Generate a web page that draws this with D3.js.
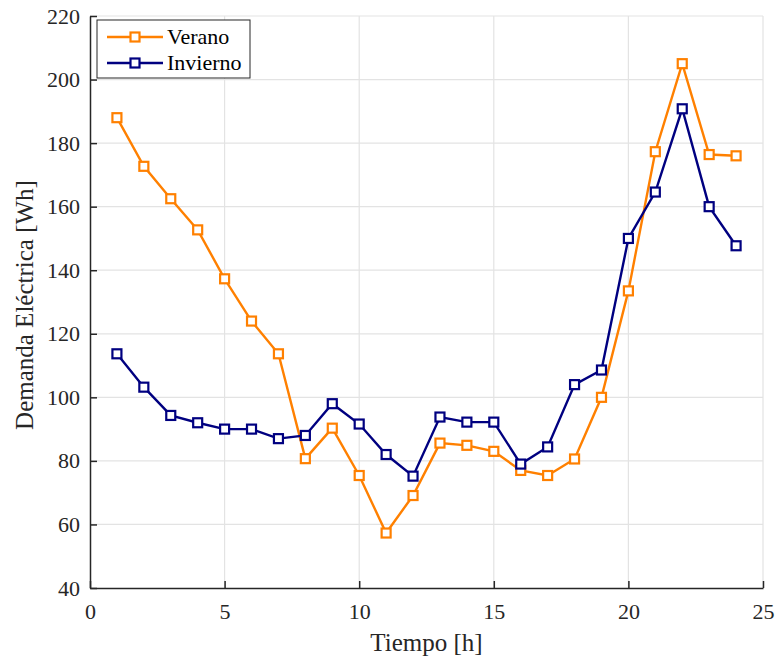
<!DOCTYPE html>
<html>
<head>
<meta charset="utf-8">
<script src="https://cdnjs.cloudflare.com/ajax/libs/d3/7.8.5/d3.min.js"></script>
<style>
  body { margin: 0; background: #fff; }
  text { font-family: "Liberation Serif", "Times New Roman", serif; }
</style>
</head>
<body>
<div id="chart"></div>
<script>
var horas = d3.range(1, 25)
var verano = [188, 172.7, 162.5, 152.7, 137.3, 124, 113.7, 80.7, 90.3, 75.4, 57.3, 69.1,
              85.6, 84.9, 83, 77, 75.4, 80.6, 100, 133.5, 177.3, 205, 176.4, 176]
var invierno = [113.7, 103.2, 94.3, 92, 90, 90, 87, 88, 98, 91.6, 82, 75.2,
                93.8, 92.2, 92.2, 79, 84.4, 104, 108.6, 150, 164.6, 190.8, 160, 147.7]
var xTicks = [0, 5, 10, 15, 20, 25]
var yTicks = [40, 60, 80, 100, 120, 140, 160, 180, 200, 220]

var series = [
    {name: 'Verano', values: verano, color: '#ff8000'},
    {name: 'Invierno', values: invierno, color: '#000080'}
]

var margin = {top: 16, right: 15, bottom: 72, left: 90},
    width = 778 - margin.left - margin.right,
    height = 660 - margin.top - margin.bottom;

var svg = d3.select("#chart")
    .append("svg")
    .attr("width", 778)
    .attr("height", 660)
    .append("g")
    .attr("transform", "translate(" + margin.left + "," + margin.top + ")");

var x = d3.scaleLinear().domain([0, 25]).range([0, width]);
var y = d3.scaleLinear().domain([40, 220]).range([height, 0]);

// grid
svg.append("g")
    .selectAll("line")
    .data(xTicks.slice(1))
    .enter().append("line")
    .attr("x1", d => x(d)).attr("x2", d => x(d))
    .attr("y1", 0).attr("y2", height)
    .attr("stroke", "#e3e3e3").attr("stroke-width", 1.2);
svg.append("g")
    .selectAll("line")
    .data(yTicks.slice(1))
    .enter().append("line")
    .attr("x1", 0).attr("x2", width)
    .attr("y1", d => y(d)).attr("y2", d => y(d))
    .attr("stroke", "#e3e3e3").attr("stroke-width", 1.2);

// axes
var xAxis = svg.append("g")
    .attr("transform", "translate(0," + height + ")")
    .call(d3.axisBottom(x).tickValues(xTicks).tickSizeInner(-7).tickSizeOuter(0).tickPadding(15));
var yAxis = svg.append("g")
    .call(d3.axisLeft(y).tickValues(yTicks).tickSizeInner(-7).tickSizeOuter(0).tickPadding(10));

[xAxis, yAxis].forEach(function(a) {
    a.attr("font-family", null);
    a.select(".domain").attr("stroke", "#262626").attr("stroke-width", 1.5);
    a.selectAll(".tick line").attr("stroke", "#262626").attr("stroke-width", 1.5);
    a.selectAll(".tick text")
        .attr("fill", "#262626")
        .style("font-size", "22px")
        .style("font-family", "'Liberation Serif', serif");
});

// labels
svg.append("text")
    .attr("x", width / 2)
    .attr("y", height + 63)
    .attr("text-anchor", "middle")
    .attr("fill", "#262626")
    .style("font-size", "25px")
    .text("Tiempo [h]");

svg.append("text")
    .attr("transform", "rotate(-90)")
    .attr("x", -height / 2 - 3)
    .attr("y", -57)
    .attr("text-anchor", "middle")
    .attr("fill", "#262626")
    .style("font-size", "25px")
    .text("Demanda Eléctrica [Wh]");

// lines
var line = d3.line()
    .x(function(d, i) { return x(horas[i]); })
    .y(function(d) { return y(d); });

series.forEach(function(s) {
    svg.append("path")
        .datum(s.values)
        .attr("fill", "none")
        .attr("stroke", s.color)
        .attr("stroke-width", 2.4)
        .attr("d", line);

    svg.selectAll(".m-" + s.name)
        .data(s.values)
        .enter().append("rect")
        .attr("x", function(d, i) { return x(horas[i]) - 4.5; })
        .attr("y", function(d) { return y(d) - 4.5; })
        .attr("width", 9)
        .attr("height", 9)
        .attr("fill", "#fff")
        .attr("stroke", s.color)
        .attr("stroke-width", 2.2);
});

// legend
var legend = svg.append("g").attr("transform", "translate(7,4)");
legend.append("rect")
    .attr("x", 0).attr("y", 0)
    .attr("width", 153).attr("height", 58)
    .attr("fill", "#fff")
    .attr("stroke", "#262626")
    .attr("stroke-width", 1);

series.forEach(function(s, i) {
    var ly = 17 + i * 26;
    legend.append("line")
        .attr("x1", 10).attr("x2", 66)
        .attr("y1", ly).attr("y2", ly)
        .attr("stroke", s.color).attr("stroke-width", 2.4);
    legend.append("rect")
        .attr("x", 33.5).attr("y", ly - 4.5)
        .attr("width", 9).attr("height", 9)
        .attr("fill", "#fff")
        .attr("stroke", s.color).attr("stroke-width", 2.2);
    legend.append("text")
        .attr("x", 70).attr("y", ly + 7)
        .style("font-size", "22px")
        .attr("fill", "#000")
        .text(s.name);
});
</script>
</body>
</html>
